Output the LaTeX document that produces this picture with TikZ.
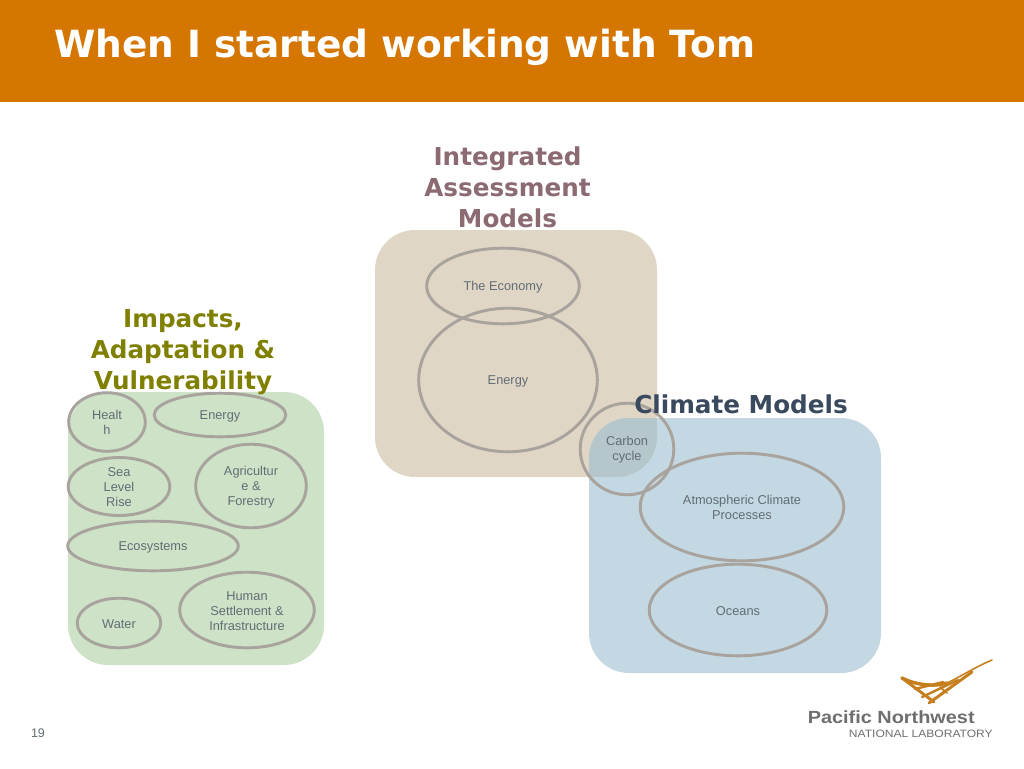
\documentclass[tikz,border=0pt]{standalone}
\usepackage{fontspec}
\setmainfont{Liberation Sans}
\newfontfamily\headfont{DejaVu Sans}
\newfontfamily\logofont[FakeStretch=1.13]{Liberation Sans}
\usepackage{xcolor}
\usetikzlibrary{shapes.geometric}

\definecolor{headerorange}{HTML}{D47600}
\definecolor{greenbox}{HTML}{CEE2C8}
\definecolor{tanbox}{HTML}{E0D6C6}
\definecolor{bluebox}{HTML}{C4D8E4}
\definecolor{overlapbox}{HTML}{B6C7CB}
\definecolor{ovalline}{HTML}{A8A39C}
\definecolor{ovaltext}{HTML}{626D74}
\definecolor{iamtext}{HTML}{8B6A72}
\definecolor{iavtext}{HTML}{808000}
\definecolor{climtext}{HTML}{3A4A5E}
\definecolor{logoorange}{HTML}{C67F1E}
\definecolor{logogray}{HTML}{6E6E6E}

\newcommand{\ovalstrut}{\rule{0pt}{0.85em}}

\tikzset{
	panel/.style n args={3}{draw=none,fill=#3,rounded corners=30pt,inner sep=0pt,minimum width=#1*0.75pt,minimum height=#2*0.75pt},
	oval/.style 2 args={ellipse,draw=ovalline,line width=2.2pt,inner sep=0pt,align=center,text=ovaltext,
		font=\fontsize{9.6}{11.25}\selectfont,minimum width=#1*0.75pt-1.8pt,minimum height=#2*0.75pt-1.8pt},
	heading/.style={align=center,inner sep=0pt,font=\headfont\bfseries\fontsize{18.5}{23.25}\selectfont}
}

\begin{document}
\begin{tikzpicture}[x=0.75pt,y=-0.75pt]
	\useasboundingbox (0,0) rectangle (1024,768);
	\fill[headerorange] (0,0) rectangle (1024,102);
	\node[anchor=west,inner sep=0pt,text=white,font=\headfont\bfseries\fontsize{28.1}{32}\selectfont] (title) at (54,47) {When I started working with Tom};

	% the three coloured panels
	\node[panel={256}{273}{greenbox}] (impactbox) at (196,528.5) {};
	\node[panel={282}{247}{tanbox}] (iambox) at (516,353.5) {};
	\node[panel={292}{255}{bluebox}] (climatebox) at (735,545.5) {};
	\begin{scope}
		\clip[rounded corners=30pt] (375,230) rectangle (657,477);
		\fill[overlapbox,rounded corners=30pt] (589,418) rectangle (881,673);
	\end{scope}

	\node[heading,text=iamtext] (iamhead) at (507.5,187) {Integrated\\Assessment\\Models};
	\node[heading,text=iavtext] (iavhead) at (183,352) {Impacts,\\Adaptation \&\\Vulnerability};

	% integrated assessment
	\node[oval={155}{78}] (economy) at (503,286) {\ovalstrut The Economy};
	\node[oval={181}{146}] (energy) at (508,380) {\ovalstrut Energy};

	% climate models
	\node[oval={96}{94}] (carbon) at (627,449) {\ovalstrut Carbon\\cycle};
	\node[oval={206}{110}] (atmos) at (742,507) {\ovalstrut Atmospheric Climate\\Processes};
	\node[oval={180}{94}] (oceans) at (738,610) {\ovalstrut Oceans};
	\node[heading,text=climtext] (climhead) at (741,404) {Climate Models};

	% impacts
	\node[oval={79}{61}] (health) at (107,422) {\ovalstrut Healt\\h};
	\node[oval={134}{46}] (energyuse) at (220,415) {\ovalstrut Energy};
	\node[oval={104}{53}] (sealevel) at (119,486.5) {\ovalstrut Sea\\Level\\Rise};
	\node[oval={113}{86}] (agri) at (251,486) {\ovalstrut Agricultur\\e \&\\Forestry};
	\node[oval={173}{52}] (eco) at (153,546) {\ovalstrut Ecosystems};
	\node[oval={86}{52}] (water) at (119,623) {\ovalstrut Water};
	\node[oval={137}{78}] (human) at (247,610) {\ovalstrut Human\\Settlement \&\\Infrastructure};

	\node[text=ovaltext,inner sep=0pt,font=\fontsize{9.4}{11}\selectfont] (pagenum) at (38,733) {19};

	% logo
	\draw[logoorange,line width=1.2pt,line cap=round] (992,660) .. controls (975,667) and (960,677) .. (947,683);
	\draw[logoorange,line width=2.6pt,line cap=round] (902,678) .. controls (915,685) and (935,687) .. (947,683);
	\draw[logoorange,line width=2.2pt,line cap=round] (902,678) -- (934,702);
	\draw[logoorange,line width=2.2pt,line cap=round] (929,703) -- (972,672);
	\draw[logoorange,line width=1.8pt,line cap=round] (915,689) -- (943,682);
	\draw[logoorange,line width=1.8pt,line cap=round] (922,697) -- (958,680);
	\draw[logoorange,line width=1.4pt,line cap=round] (940,687) -- (947,693);
	\node[anchor=west,inner sep=0pt,text=logogray,font=\logofont\bfseries\fontsize{13.2}{15}\selectfont] (pnnl) at (807.5,717) {Pacific Northwest};
	\node[anchor=east,inner sep=0pt,text=logogray,font=\logofont\fontsize{8}{9}\selectfont] (natlab) at (993,733.5) {NATIONAL LABORATORY};
\end{tikzpicture}
\end{document}
